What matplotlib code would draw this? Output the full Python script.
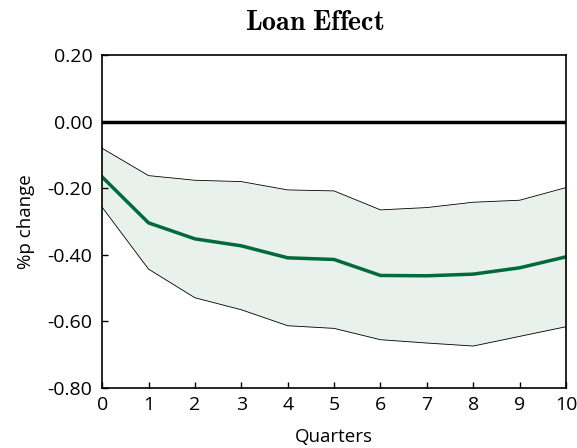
import matplotlib
matplotlib.use("Agg")
import matplotlib.pyplot as plt
from matplotlib.ticker import FormatStrFormatter

plt.rcParams["font.family"] = ["Open Sans", "DejaVu Sans"]
plt.rcParams["mathtext.fontset"] = "cm"

quarters = [0, 1, 2, 3, 4, 5, 6, 7, 8, 9, 10]
effect = [-0.166, -0.304, -0.352, -0.373, -0.409, -0.414, -0.462, -0.463, -0.458, -0.439, -0.406]
upper = [-0.080, -0.162, -0.176, -0.180, -0.205, -0.208, -0.265, -0.258, -0.242, -0.236, -0.198]
lower = [-0.257, -0.443, -0.529, -0.565, -0.613, -0.621, -0.655, -0.665, -0.674, -0.645, -0.616]
yticks = [-0.8, -0.6, -0.4, -0.2, 0.0, 0.2]

fig = plt.figure(figsize=(5.77, 4.48), dpi=100)
ax = fig.add_axes([0.177, 0.134, 0.804, 0.743])

ax.fill_between(quarters, lower, upper, color="#e8f1ec", lw=0)
ax.plot(quarters, upper, color="black", lw=0.6)
ax.plot(quarters, lower, color="black", lw=0.6)
ax.plot(quarters, effect, color="#006a3a", lw=2.5)
ax.axhline(0, color="black", lw=2.5)

ax.set_xlim(0, 10)
ax.set_ylim(-0.8, 0.2)
ax.set_xticks(quarters)
ax.set_yticks(yticks)
ax.yaxis.set_major_formatter(FormatStrFormatter("%.2f"))
ax.tick_params(direction="in", length=4, width=1, labelsize=14)
ax.tick_params(axis="y", pad=7)
ax.tick_params(axis="x", pad=6)
for s in ax.spines.values():
    s.set_linewidth(1.2)

ax.set_xlabel("Quarters", fontsize=13.5, labelpad=10)
ax.set_ylabel("%p change", fontsize=13.5, labelpad=9)
fig.text(0.546, 0.948, r"$\mathbf{Loan\ Effect}$", fontsize=20, ha="center", va="center")

fig.savefig("out.png", dpi=100)
